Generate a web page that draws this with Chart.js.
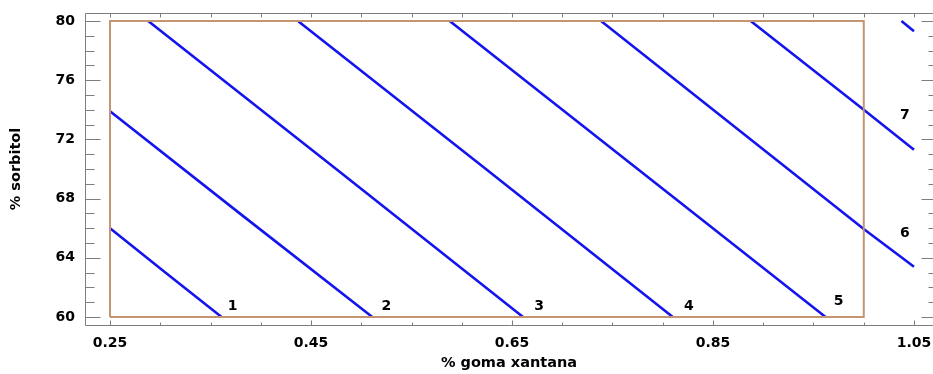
<!DOCTYPE html>
<html><head><meta charset="utf-8">
<script src="https://cdn.jsdelivr.net/npm/chart.js@4/dist/chart.umd.min.js"></script>
<style>html,body{margin:0;padding:0;background:#fff;}#wrap{width:933px;height:374px;}</style>
</head><body><div id="wrap"><canvas id="c" width="933" height="374"></canvas></div>
<script>
// ---- data ----
const xTickLabels = [0.25, 0.45, 0.65, 0.85, 1.05];
const xMinorTicks = [0.30, 0.35, 0.40, 0.50, 0.55, 0.60, 0.70, 0.75, 0.80, 0.90, 0.95, 1.00];
const yTickLabels = [60, 64, 68, 72, 76, 80];
const yMinorTicks = [61, 62, 63, 65, 66, 67, 69, 70, 71, 73, 74, 75, 77, 78, 79];

const regionX = [0.25, 1.0, 1.0, 0.25, 0.25];
const regionY = [60, 60, 80, 80, 60];

const contour1X = [0.25, 0.306, 0.361];   const contour1Y = [66, 62.95, 60];
const contour2X = [0.25, 0.38, 0.511];    const contour2Y = [73.9, 66.95, 60];
const contour3X = [0.288, 0.475, 0.661];  const contour3Y = [80, 70, 60];
const contour4X = [0.437, 0.624, 0.810];  const contour4Y = [80, 70, 60];
const contour5X = [0.588, 0.775, 0.962];  const contour5Y = [80, 70, 60];
const contour6X = [0.7386, 1.0, 1.05];    const contour6Y = [80, 65.95, 63.4];
const contour7X = [0.8875, 1.0, 1.05];    const contour7Y = [80, 74.0, 71.3];
const contour8X = [1.0375, 1.05];         const contour8Y = [80, 79.3];

const levelText = ['1', '2', '3', '4', '5', '6', '7'];
const levelX = [0.372, 0.525, 0.677, 0.826, 0.975, 1.041, 1.041];
const levelY = [60.70, 60.74, 60.74, 60.74, 61.03, 65.65, 73.65];

// ---- build ----
const pts = (xs, ys) => xs.map((x, i) => ({x: x, y: ys[i]}));
const contours = [
  [contour1X, contour1Y], [contour2X, contour2Y], [contour3X, contour3Y], [contour4X, contour4Y],
  [contour5X, contour5Y], [contour6X, contour6Y], [contour7X, contour7Y], [contour8X, contour8Y]
];
const datasets = [{
  data: pts(regionX, regionY), showLine: true, borderColor: '#c39571', borderWidth: 2,
  pointRadius: 0, fill: false, tension: 0
}].concat(contours.map(c => ({
  data: pts(c[0], c[1]), showLine: true, borderColor: '#1414ee', borderWidth: 2.6,
  pointRadius: 0, fill: false, tension: 0
})));

const FONT = 'DejaVu Sans';
const frameColor = '#7d7d7d';

const framePlugin = {
  id: 'frame',
  afterDatasetsDraw(chart) {
    const ctx = chart.ctx, a = chart.chartArea, xs = chart.scales.x, ys = chart.scales.y;
    ctx.save();
    ctx.fillStyle = '#000';
    ctx.font = 'bold 14px "' + FONT + '"';
    ctx.textAlign = 'center'; ctx.textBaseline = 'middle';
    levelText.forEach((t, i) => ctx.fillText(t, xs.getPixelForValue(levelX[i]), ys.getPixelForValue(levelY[i])));
    ctx.strokeStyle = frameColor; ctx.lineWidth = 1;
    const L = Math.round(a.left) + 0.5, R = Math.round(a.right) + 0.5, T = Math.round(a.top) + 0.5, B = Math.round(a.bottom) + 0.5;
    ctx.beginPath();
    ctx.moveTo(L, B); ctx.lineTo(L, T); ctx.lineTo(R, T); ctx.lineTo(R, B); ctx.lineTo(L, B);
    ctx.stroke();
    ctx.beginPath();
    const vline = (x, y0, y1) => { ctx.moveTo(x, y0); ctx.lineTo(x, y1); };
    const hline = (y, x0, x1) => { ctx.moveTo(x0, y); ctx.lineTo(x1, y); };
    xTickLabels.forEach(v => { const p = Math.round(xs.getPixelForValue(v)) + 0.5; vline(p, B, B - 5); vline(p, T, T + 4); });
    xMinorTicks.forEach(v => { const p = Math.round(xs.getPixelForValue(v)) + 0.5; vline(p, B, B - 3); vline(p, T, T + 4); });
    yTickLabels.forEach(v => { const p = Math.round(ys.getPixelForValue(v)) + 0.5; hline(p, L, L + 15); hline(p, R, R - 12); });
    yMinorTicks.forEach(v => { const p = Math.round(ys.getPixelForValue(v)) + 0.5; hline(p, L, L + 9); hline(p, R, R - 5); });
    ctx.stroke();
    ctx.restore();
  }
};

new Chart(document.getElementById('c'), {
  type: 'scatter',
  data: { datasets: datasets },
  options: {
    responsive: false, animation: false, devicePixelRatio: 1,
    layout: { padding: { top: 13, left: 0, right: 0, bottom: 0 } },
    plugins: { legend: { display: false }, tooltip: { enabled: false } },
    scales: {
      x: {
        type: 'linear', min: 0.22512, max: 1.06891,
        grid: { display: false, drawTicks: false }, border: { display: false },
        afterBuildTicks: s => { s.ticks = xTickLabels.map(v => ({ value: v })); },
        afterFit: s => { s.height = 49; s.paddingLeft = 0; s.paddingRight = 0; s.paddingTop = 0; s.paddingBottom = 0; },
        ticks: { autoSkip: false, maxRotation: 0, padding: 10, color: '#000',
          font: { family: FONT, size: 14, weight: 'bold' }, callback: v => Number(v).toFixed(2) },
        title: { display: true, text: '% goma xantana', color: '#000',
          font: { family: FONT, size: 14.5, weight: 'bold' }, padding: { top: 0, bottom: 2 } }
      },
      y: {
        type: 'linear', min: 59.4595, max: 80.5405,
        grid: { display: false, drawTicks: false }, border: { display: false },
        afterBuildTicks: s => { s.ticks = yTickLabels.map(v => ({ value: v })); },
        afterFit: s => { s.width = 85; s.paddingLeft = 0; s.paddingRight = 0; s.paddingTop = 0; s.paddingBottom = 0; },
        ticks: { autoSkip: false, padding: 10, color: '#000',
          font: { family: FONT, size: 14, weight: 'bold' }, callback: v => String(v) },
        title: { display: true, text: '% sorbitol', color: '#000',
          font: { family: FONT, size: 14.5, weight: 'bold' }, padding: { top: 8, bottom: 0 } }
      }
    }
  },
  plugins: [framePlugin]
});
</script></body></html>
